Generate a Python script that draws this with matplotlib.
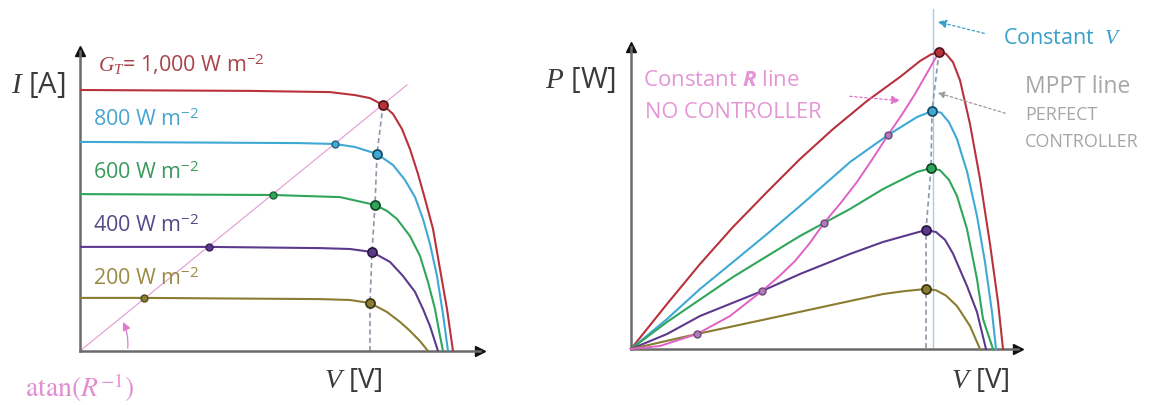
import matplotlib
matplotlib.use("Agg")
import matplotlib.pyplot as plt
import numpy as np

plt.rcParams['font.family'] = ['Open Sans', 'DejaVu Sans']
plt.rcParams['mathtext.fontset'] = 'custom'
plt.rcParams['mathtext.rm'] = 'Open Sans'
plt.rcParams['mathtext.it'] = 'Liberation Serif:italic'
plt.rcParams['mathtext.bf'] = 'Open Sans:italic:bold'

# ---- I-V curves (left panel), V in volts, I in amps ----
v_1000 = [0, 17.0, 25.0, 27.5, 29.0, 30.3, 31.3, 32.2, 33.0, 33.8, 34.5, 35.3, 36.0, 36.7, 37.3]
i_1000 = [8.70, 8.67, 8.63, 8.53, 8.43, 8.20, 7.90, 7.40, 6.73, 5.90, 5.07, 4.07, 2.73, 1.40, 0]
v_800 = [0, 22.0, 25.5, 27.5, 29.7, 31.3, 32.5, 33.5, 34.3, 35.0, 35.7, 36.3, 36.8]
i_800 = [6.97, 6.93, 6.90, 6.80, 6.57, 6.20, 5.70, 5.13, 4.40, 3.57, 2.50, 1.23, 0]
v_600 = [0, 19.3, 26.0, 29.5, 30.7, 31.7, 33.0, 34.0, 34.8, 35.5, 36.0, 36.3]
i_600 = [5.23, 5.20, 5.13, 4.87, 4.67, 4.40, 3.83, 3.17, 2.30, 1.40, 0.50, 0]
v_400 = [0, 12.9, 24.0, 27.0, 29.2, 31.0, 32.3, 33.5, 34.3, 35.0, 35.8]
i_400 = [3.47, 3.47, 3.43, 3.40, 3.30, 2.97, 2.50, 1.97, 1.40, 0.83, 0]
v_200 = [0, 6.4, 24.0, 27.0, 29.0, 30.7, 32.0, 33.0, 34.0, 34.8]
i_200 = [1.77, 1.77, 1.73, 1.70, 1.60, 1.30, 0.97, 0.67, 0.33, 0]

# constant-R load line and its crossings
r_line_v = [0, 32.7]
r_line_i = [0, 8.87]
r_pts_v = [30.3, 25.5, 19.3, 12.9, 6.4]
r_pts_i = [8.20, 6.90, 5.20, 3.47, 1.77]
# maximum power points (left)
mpp_v = [30.3, 29.7, 29.5, 29.2, 29.0]
mpp_i = [8.20, 6.57, 4.87, 3.30, 1.60]

# ---- P-V curves (right panel), P in watts ----
pv_1000_v = [0, 3.6, 6.9, 10.2, 13.6, 16.9, 20.2, 23.6, 26.9, 28.9, 30.0, 30.8, 31.5, 32.2, 32.9, 33.9, 34.9, 35.9, 36.7, 37.2]
pv_1000_p = [0, 37.5, 70.8, 101.7, 130.8, 158.3, 183.3, 206.7, 226.7, 240.0, 245.5, 247.5, 246.0, 239.0, 224.0, 187.5, 141.7, 87.5, 39.2, 0]
pv_800_v = [0, 3.6, 6.9, 10.2, 13.6, 16.9, 21.9, 25.7, 28.6, 30.1, 31.0, 31.8, 32.6, 33.6, 34.6, 35.4, 36.1, 36.5]
pv_800_p = [0, 25.0, 50.0, 72.5, 95.8, 119.2, 155.8, 178.3, 193.3, 198.3, 197.0, 189.0, 175.0, 148.0, 110.8, 72.5, 30.8, 0]
pv_600_v = [0, 3.6, 10.2, 16.9, 19.3, 21.9, 25.2, 28.6, 30.0, 30.9, 31.8, 32.6, 33.6, 34.6, 35.2, 36.2]
pv_600_p = [0, 22.5, 60.0, 94.2, 105.0, 116.7, 133.3, 147.5, 150.8, 149.0, 141.0, 127.5, 100.0, 58.3, 25.0, 0]
pv_400_v = [0, 3.6, 6.9, 13.1, 16.9, 21.9, 25.2, 29.5, 30.5, 31.4, 32.2, 33.6, 34.6, 35.5]
pv_400_p = [0, 12.5, 27.5, 48.3, 62.5, 79.2, 89.2, 99.2, 97.5, 91.0, 79.5, 52.5, 30.8, 0]
pv_200_v = [0, 6.6, 13.6, 21.9, 25.2, 27.4, 29.5, 30.5, 31.5, 32.6, 33.9, 34.9]
pv_200_p = [0, 12.5, 25.0, 40.0, 45.8, 48.3, 50.0, 49.0, 44.5, 35.8, 19.2, 0]

r_curve_v = [0, 2.9, 6.6, 9.9, 13.1, 14.8, 16.4, 17.9, 19.3, 21.0, 22.6, 24.2, 25.7, 27.1, 28.4, 29.6, 30.8]
r_curve_p = [0, 2.5, 12.5, 27.5, 48.3, 60.5, 73.3, 88.5, 105.0, 122.0, 139.2, 159.0, 178.3, 195.5, 212.5, 230.0, 247.5]
rp_pts_v = [30.8, 25.7, 19.3, 13.1, 6.6]
rp_pts_p = [247.5, 178.3, 105.0, 48.3, 12.5]
mppp_v = [30.8, 30.1, 30.0, 29.5, 29.5]
mppp_p = [247.5, 198.3, 150.8, 99.2, 50.0]
const_v = 30.2
const_v_top = 283

colors = ['#b8323c', '#3fa9d6', '#2fa65a', '#5b3a8e', '#8a7c30']
label_colors = ['#a8454a', '#4aa6cf', '#3a9a5e', '#574a88', '#9a8a44']
labels = ['$G_T$= 1,000 W m$^{-2}$', '800 W m$^{-2}$', '600 W m$^{-2}$',
          '400 W m$^{-2}$', '200 W m$^{-2}$']
label_y = [9.6, 7.73, 5.97, 4.2, 2.43]

W, H = 1152, 406
def box(x0, y0, x1, y1):
    return [x0 / W, 1 - y1 / H, (x1 - x0) / W, (y1 - y0) / H]
def fx(x, y):
    return x / W, 1 - y / H

fig = plt.figure(figsize=(11.52, 4.06), dpi=100)
axL = fig.add_axes(box(80, 52, 480, 352))
axR = fig.add_axes(box(631, 48, 1018, 350))
axL.set_xlim(0, 40); axL.set_ylim(0, 10)
axR.set_xlim(0, 38.7); axR.set_ylim(0, 251.7)

for ax in (axL, axR):
    ax.patch.set_alpha(0)
    for s in ('top', 'right'):
        ax.spines[s].set_visible(False)
    for s in ('left', 'bottom'):
        ax.spines[s].set_color('#6a6a6a')
        ax.spines[s].set_linewidth(1.8)
    ax.set_xticks([]); ax.set_yticks([])
    ax.plot(1, 0, '>', color='#111111', ms=7, transform=ax.transAxes, clip_on=False)
    ax.plot(0, 1, '^', color='#111111', ms=7, transform=ax.transAxes, clip_on=False)

def darker(c, f=0.6):
    rgb = np.array(matplotlib.colors.to_rgb(c))
    return tuple(rgb * f)

# left panel
iv = [(v_1000, i_1000), (v_800, i_800), (v_600, i_600), (v_400, i_400), (v_200, i_200)]
axL.plot(r_line_v, r_line_i, color='#e39ad3', lw=0.8, zorder=2)
axL.plot(mpp_v + [mpp_v[-1]], mpp_i + [0], color='#8a98aa', lw=1.2, ls=(0, (3, 2)), zorder=2)
for k, (v, i) in enumerate(iv):
    axL.plot(v, i, color=colors[k], lw=1.5, zorder=3)
    axL.plot(r_pts_v[k], r_pts_i[k], 'o', ms=5, color=colors[k], mec=darker(colors[k]), mew=1, zorder=4)
    axL.plot(mpp_v[k], mpp_i[k], 'o', ms=6.5, color=colors[k], mec=darker(colors[k], 0.45), mew=1.3, zorder=4)
    axL.text(1.3 if k else 1.8, label_y[k], labels[k], color=label_colors[k], fontsize=15.5, va='center', ha='left')

axL.annotate('', xy=(4.2, 1.05), xytext=(4.75, 0), arrowprops=dict(arrowstyle='-|>', color='#e07ccd', lw=0.9, mutation_scale=12, connectionstyle='arc3,rad=0.15'), annotation_clip=False)

# right panel
pv = [(pv_1000_v, pv_1000_p), (pv_800_v, pv_800_p), (pv_600_v, pv_600_p), (pv_400_v, pv_400_p), (pv_200_v, pv_200_p)]
axR.plot([const_v, const_v], [0, const_v_top], color='#a9cde6', lw=1.0, zorder=1, clip_on=False)
axR.plot(mppp_v + [mppp_v[-1]], mppp_p + [0], color='#8a98aa', lw=1.2, ls=(0, (3, 2)), zorder=2)
for k, (v, p) in enumerate(pv):
    axR.plot(v, p, color=colors[k], lw=1.5, zorder=3, clip_on=False)
    axR.plot(mppp_v[k], mppp_p[k], 'o', ms=6.5, color=colors[k], mec=darker(colors[k], 0.45), mew=1.3, zorder=5, clip_on=False)
axR.plot(r_curve_v, r_curve_p, color='#e062c4', lw=1.4, zorder=4, clip_on=False)
for k in range(1, 5):
    axR.plot(rp_pts_v[k], rp_pts_p[k], 'o', ms=5, color='#b07ab8', mec='#6a4a7a', mew=1, zorder=5)

axR.annotate('', xy=(30.4, 273.3), xytext=(35.6, 262.5), annotation_clip=False,
             arrowprops=dict(arrowstyle='-|>', color='#3b9fc8', lw=0.9, ls=(0, (2, 2)), mutation_scale=13))
axR.annotate('', xy=(27.2, 206.7), xytext=(21.6, 210.8), annotation_clip=False,
             arrowprops=dict(arrowstyle='-|>', color='#e070cc', lw=0.9, ls=(0, (2, 2)), mutation_scale=13))
axR.annotate('', xy=(30.4, 214.2), xytext=(37.7, 195.8), annotation_clip=False,
             arrowprops=dict(arrowstyle='-|>', color='#9a9a9a', lw=0.9, ls=(0, (2, 2)), mutation_scale=10))

# text
dark = '#3a3a3a'
fig.text(*fx(66, 85), '$I$ [A]', fontsize=21, color=dark, ha='right', va='center')
fig.text(*fx(353, 381), '$V$ [V]', fontsize=20, color=dark, ha='center', va='center')
fig.text(*fx(80, 388), r'$\mathrm{atan}(R^{-1})$', fontsize=20, color='#e28fd2', ha='center', va='center', math_fontfamily='stix')
fig.text(*fx(616, 80), '$P$ [W]', fontsize=21, color=dark, ha='right', va='center')
fig.text(*fx(980, 381), '$V$ [V]', fontsize=20, color=dark, ha='center', va='center')
fig.text(*fx(643, 80), r'Constant $\mathbf{R}$ line', fontsize=16, color='#e596d6', ha='left', va='center')
fig.text(*fx(645, 112), 'NO CONTROLLER', fontsize=15.7, color='#e596d6', ha='left', va='center')
fig.text(*fx(1003, 38), 'Constant  $V$', fontsize=15.5, color='#3b9fc8', ha='left', va='center')
fig.text(*fx(1025, 87), 'MPPT line', fontsize=16.5, color='#a6a6a6', ha='left', va='center')
fig.text(*fx(1025, 115), 'PERFECT', fontsize=13, color='#a6a6a6', ha='left', va='center')
fig.text(*fx(1025, 142), 'CONTROLLER', fontsize=13, color='#a6a6a6', ha='left', va='center')

fig.savefig('out.png', dpi=100)
